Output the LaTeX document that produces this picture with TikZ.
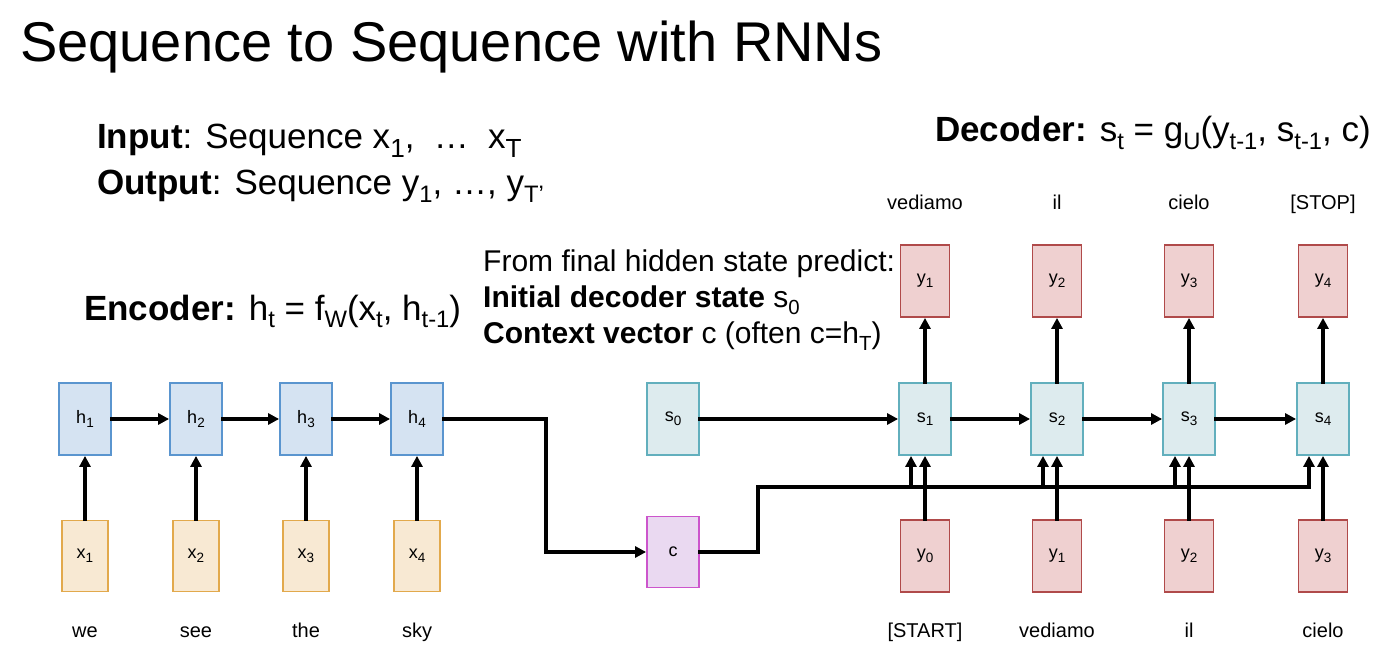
\documentclass[tikz,border=0pt]{standalone}
\usepackage{fontspec}
\usepackage{graphicx}
\setmainfont{Liberation Sans}
\usetikzlibrary{arrows.meta,calc}
\definecolor{hfill}{HTML}{D5E3F2}
\definecolor{hdraw}{HTML}{5A95CF}
\definecolor{xfill}{HTML}{F8E9D3}
\definecolor{xdraw}{HTML}{E2A94C}
\definecolor{sfill}{HTML}{DDEBEE}
\definecolor{sdraw}{HTML}{62AFBD}
\definecolor{cfill}{HTML}{EAD9F1}
\definecolor{cdraw}{HTML}{CC55CC}
\definecolor{yfill}{HTML}{EFD0D0}
\definecolor{ydraw}{HTML}{B04A4A}
\newcommand{\sbs}[1]{\raisebox{-0.22em}{\scalebox{0.68}{#1}}}
\newcommand{\bsb}[1]{\raisebox{-0.2em}{\scalebox{0.75}{#1}}}
\tikzset{
  cell/.style={rectangle, inner sep=0pt, line width=1.8pt, minimum width=52pt, minimum height=72pt, font=\fontsize{18}{21}\selectfont},
  hcell/.style={cell, fill=hfill, draw=hdraw},
  xcell/.style={cell, fill=xfill, draw=xdraw, minimum width=46pt, minimum height=71pt},
  scell/.style={cell, fill=sfill, draw=sdraw},
  ccell/.style={cell, fill=cfill, draw=cdraw, minimum height=71pt},
  ycell/.style={cell, fill=yfill, draw=ydraw, minimum width=49pt},
  word/.style={font=\fontsize{20}{24}\selectfont, anchor=base},
  txt/.style={anchor=base west, inner sep=0pt},
  conn/.style={line width=3.2pt, line cap=rect},
  arr/.style={conn, -{Triangle[length=11pt,width=11pt]}},
}
\begin{document}
\begin{tikzpicture}[x=1pt,y=-1pt]
\useasboundingbox (0,0) rectangle (1387,652);
% title and texts
\node[txt, font=\fontsize{56}{66}\selectfont] (title) at (20,62) {Sequence to Sequence with RNNs};
\node[txt, font=\fontsize{35}{40}\selectfont] (inp) at (97,149) {\textbf{Input}: Sequence x\scalebox{1.1}{\sbs{1}},\hspace{0.55em}…\hspace{0.55em}x\scalebox{1.1}{\sbs{T}}};
\node[txt, font=\fontsize{35}{40}\selectfont] (outp) at (97,195) {\textbf{Output}: Sequence y\sbs{1}, …, y\sbs{T’}};
\node[txt, font=\fontsize{35}{40}\selectfont] (dec) at (935,142) {\textbf{Decoder:} s\sbs{t} = g\sbs{U}(y\sbs{t-1}, s\sbs{t-1}, c)};
\node[txt, font=\fontsize{35}{40}\selectfont] (enc) at (84,320) {\textbf{Encoder:} h\sbs{t} = f\sbs{W}(x\sbs{t}, h\sbs{t-1})};
\node[txt, font=\fontsize{30}{36}\selectfont] (pred1) at (483,272) {From final hidden state predict:};
\node[txt, font=\fontsize{30}{36}\selectfont] (pred2) at (483,308) {\textbf{Initial decoder state} s\sbs{0}};
\node[txt, font=\fontsize{30}{36}\selectfont] (pred3) at (483,344) {\textbf{Context vector} c (often c=h\sbs{T})};
% encoder
\foreach \i/\x/\w in {1/85/we, 2/196/see, 3/306/the, 4/417/sky} {
  \node[hcell] (h\i) at (\x,419) {h\bsb{\i}};
  \node[xcell] (x\i) at (\x,556) {x\bsb{\i}};
  \node[word] (w\i) at (\x,637) {\w};
  \draw[arr] (x\i.north) -- (h\i.south);
}
\draw[arr] (h1) -- (h2);
\draw[arr] (h2) -- (h3);
\draw[arr] (h3) -- (h4);
% s0 and c
\node[scell] (s0) at (673,419) {s\bsb{0}};
\node[ccell] (c) at (673,552) {c};
\coordinate (k1) at (546,419);
\draw[arr] (h4.east) -- (k1) |- (c.west);
% decoder
\foreach \i/\x/\o/\p in {1/925/vediamo/{[START]}, 2/1057/il/vediamo, 3/1189/cielo/il, 4/1323/{[STOP]}/cielo} {
  \pgfmathtruncatemacro{\j}{\i-1}
  \node[scell] (s\i) at (\x,419) {s\bsb{\i}};
  \node[ycell] (yo\i) at (\x,281) {y\bsb{\i}};
  \node[ycell] (yi\i) at (\x,556) {y\bsb{\j}};
  \node[word] (to\i) at (\x,210) {\o};
  \node[word] (ti\i) at (\x,637) {\p};
  \draw[arr] (s\i.north) -- (yo\i.south);
  \draw[arr] (yi\i.north) -- (s\i.south);
  \coordinate (b\i) at (\x-14,487);
}
\draw[arr] (s0) -- (s1);
\draw[arr] (s1) -- (s2);
\draw[arr] (s2) -- (s3);
\draw[arr] (s3) -- (s4);
\coordinate (cturn) at (758,552);
\draw[arr] (c.east) -- (cturn) |- (b4) -- (b4 |- s4.south);
\draw[arr] (b1) -- (b1 |- s1.south);
\draw[arr] (b2) -- (b2 |- s2.south);
\draw[arr] (b3) -- (b3 |- s3.south);
\end{tikzpicture}
\end{document}
